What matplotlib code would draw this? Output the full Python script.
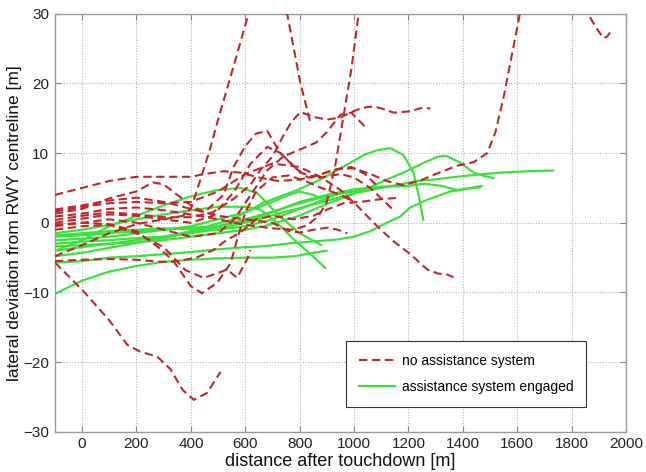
import matplotlib
matplotlib.use("Agg")
import matplotlib.pyplot as plt
from matplotlib.lines import Line2D

plt.rcParams['font.family'] = ['Liberation Sans', 'DejaVu Sans']

# ---------------- data ----------------
x_ticks = [0, 200, 400, 600, 800, 1000, 1200, 1400, 1600, 1800, 2000]
y_ticks = [-30, -20, -10, 0, 10, 20, 30]

# red dashed: no assistance system
red_top = [(-100, 4.0), (0, 5.0), (100, 6.0), (200, 6.6), (300, 6.6), (400, 6.6), (450, 7.0),
           (520, 7.4), (580, 7.2), (650, 6.5), (720, 6.0), (800, 6.2), (880, 7.0), (950, 7.8),
           (1000, 7.8), (1060, 7.0), (1120, 6.0), (1180, 5.4), (1240, 6.0), (1300, 7.0),
           (1380, 8.2), (1440, 8.7), (1490, 10.0), (1520, 13.0), (1550, 18.0), (1580, 24.0),
           (1610, 30.0), (1620, 33.0)]
red_spike1 = [(-100, -4.8), (0, -3.2), (100, -1.5), (200, -0.2), (300, 0.5), (370, 1.0), (400, 2.0),
              (435, 6.2), (470, 10.5), (500, 14.8), (564, 23.4), (612, 30.0), (650, 34.0),
              (700, 35.5), (740, 32.5), (754, 30.0), (803, 20.0), (840, 14.3)]
red_dip25 = [(-100, -5.7), (0, -9.6), (100, -14.0), (166, -17.5), (214, -18.5), (276, -19.2),
             (325, -21.0), (370, -24.0), (411, -25.4), (460, -24.4), (509, -21.4)]
red_flat = [(-100, -5.5), (0, -5.3), (100, -5.2), (200, -5.3), (289, -5.6), (336, -5.6), (420, -5.0),
            (483, -3.9), (530, -2.5), (582, -1.4), (640, 0.5), (700, 1.0), (777, 0.5), (850, 1.0),
            (901, 1.9), (960, 2.8), (1024, 3.0), (1100, 3.4), (1171, 3.6)]
red_end975 = [(-100, 1.9), (0, 2.5), (100, 3.2), (200, 3.6), (300, 3.0), (400, 2.0), (500, 1.0),
              (600, 0.5), (700, 0.0), (760, -1.2), (803, -1.4), (850, -1.0), (901, -0.7),
              (940, -1.0), (975, -1.5)]
red_end1366 = [(-100, 1.6), (0, 2.3), (100, 2.8), (200, 3.0), (300, 2.8), (400, 3.0), (500, 4.5),
               (600, 7.0), (700, 8.5), (800, 8.0), (880, 6.5), (950, 4.7), (1010, 2.5), (1072, 0.0),
               (1140, -2.5), (1207, -4.5), (1269, -6.7), (1310, -7.3), (1340, -7.4), (1366, -7.8)]
red_end1281 = [(-100, 0.4), (0, 1.0), (100, 1.5), (200, 1.2), (300, 0.8), (400, 0.8), (480, 1.5),
               (560, 3.5), (620, 5.5), (656, 7.6), (700, 9.5), (740, 12.5), (770, 14.5), (803, 15.9),
               (850, 15.2), (900, 14.8), (950, 15.1), (986, 15.8), (1030, 16.5), (1072, 16.7),
               (1110, 16.3), (1146, 15.8), (1207, 16.0), (1250, 16.5), (1281, 16.4)]
red_spike2 = [(-100, 0.9), (0, 1.3), (100, 2.0), (200, 2.2), (300, 1.8), (400, 1.2), (500, 0.5),
              (600, -0.3), (700, -0.8), (780, -1.0), (830, -0.3), (870, 1.0), (900, 3.0), (930, 8.0),
              (960, 15.0), (990, 22.0), (1017, 30.0), (1030, 33.0)]
red_dip8 = [(-100, -1.0), (0, -0.5), (100, -0.3), (200, -1.5), (300, -3.5), (380, -6.8), (447, -7.9),
            (500, -7.2), (533, -6.7), (570, -7.9), (606, -5.3), (619, -3.9)]
red_dip10 = [(-100, -0.3), (0, 0.0), (100, -0.2), (200, -1.2), (280, -3.5), (336, -5.5), (400, -9.1),
             (441, -10.1), (497, -8.6), (546, -5.8), (570, -2.4), (600, 1.5), (640, 4.5), (700, 6.5),
             (760, 6.8), (820, 6.0), (880, 5.0), (950, 4.0), (1000, 3.0)]
red_peak13 = [(-100, 1.3), (0, 2.0), (100, 3.5), (200, 4.5), (260, 5.8), (300, 5.5), (350, 4.0),
              (400, 2.5), (450, 1.5), (520, 4.0), (557, 8.0), (600, 11.0), (640, 12.8), (680, 13.2),
              (729, 10.0), (803, 7.2), (851, 6.6), (925, 7.6), (990, 8.0), (1040, 7.0), (1080, 5.5)]
red_peak11 = [(-100, 0.0), (0, 0.6), (100, 1.2), (200, 1.0), (300, 0.5), (400, 0.0), (480, 1.0),
              (560, 4.5), (620, 8.5), (681, 10.9), (730, 10.0), (780, 8.0), (830, 6.5), (880, 6.5),
              (950, 7.0), (1000, 6.5), (1060, 5.0), (1100, 3.5), (1140, 2.0)]
red_end1040 = [(-100, -0.5), (0, 0.0), (100, 0.5), (200, 0.0), (300, -1.0), (400, -2.0), (500, -1.5),
               (560, 0.5), (620, 4.0), (680, 7.5), (740, 9.5), (800, 10.5), (860, 11.5), (900, 13.0),
               (950, 15.5), (990, 15.8), (1040, 13.8)]
red_corner = [(1840, 31.0), (1860, 30.0), (1890, 28.0), (1917, 26.5), (1930, 26.7), (1942, 27.3)]

red_curves = [red_top, red_spike1, red_dip25, red_flat, red_end975, red_end1366, red_end1281,
              red_spike2, red_dip8, red_dip10, red_peak13, red_peak11, red_end1040, red_corner]

# green solid: assistance system engaged
green_long = [(-100, -3.0), (0, -2.7), (100, -2.5), (200, -2.2), (300, -2.0), (400, -1.5), (480, -1.0),
              (546, -0.5), (650, 0.5), (730, 1.4), (820, 2.3), (913, 3.3), (1000, 4.2), (1097, 5.0),
              (1170, 5.5), (1230, 6.0), (1293, 6.2), (1354, 6.5), (1450, 6.9), (1538, 7.2),
              (1640, 7.4), (1733, 7.5)]
green_peak1130 = [(-100, -4.0), (0, -3.5), (100, -3.0), (200, -2.5), (300, -2.0), (400, -1.2),
                  (480, -0.3), (546, 0.4), (668, 2.9), (791, 4.7), (876, 6.2), (913, 7.0), (986, 8.6),
                  (1040, 9.8), (1085, 10.4), (1134, 10.7), (1182, 9.7), (1219, 7.2), (1240, 3.5),
                  (1255, 0.4)]
green_peak1330 = [(-100, -3.4), (0, -3.2), (100, -3.0), (200, -2.8), (300, -2.5), (400, -2.0),
                  (500, -1.5), (600, -1.0), (668, -0.5), (791, 0.9), (913, 2.9), (1036, 4.7),
                  (1120, 6.2), (1182, 7.2), (1256, 8.6), (1310, 9.5), (1340, 9.6), (1391, 8.6),
                  (1440, 7.2), (1480, 6.7), (1514, 6.4)]
green_end1465 = [(-100, -5.7), (0, -5.5), (100, -5.0), (200, -4.8), (300, -4.5), (400, -4.2),
                 (500, -3.8), (600, -3.5), (656, -3.4), (778, -2.9), (938, -2.4), (1000, -2.0),
                 (1060, -1.2), (1120, 0.0), (1170, 0.9), (1207, 2.2), (1269, 3.3), (1354, 4.5),
                 (1420, 4.9), (1465, 5.1)]
green_end1470 = [(-100, -2.0), (0, -1.8), (100, -1.5), (200, -1.2), (300, -1.0), (400, -0.7),
                 (500, -0.5), (600, 0.2), (700, 1.5), (800, 3.0), (900, 4.0), (1000, 4.8), (1100, 5.2),
                 (1200, 5.3), (1260, 5.6), (1320, 5.3), (1380, 4.7), (1430, 5.0), (1470, 5.3)]
green_end895 = [(-100, -1.5), (0, -1.0), (100, -0.3), (200, 0.5), (300, 1.2), (400, 1.8), (500, 2.3),
                (600, 2.3), (656, 1.9), (717, 0.0), (778, -2.4), (840, -4.5), (895, -6.5)]
green_hump = [(-100, -4.0), (0, -2.5), (100, -0.5), (200, 1.0), (300, 2.5), (400, 3.8), (497, 4.7),
              (582, 5.0), (643, 4.3), (692, 2.3), (740, 0.5), (800, -1.5), (880, -3.2)]
green_low = [(-100, -10.2), (0, -8.3), (100, -7.0), (200, -6.2), (300, -5.6), (400, -5.3), (500, -5.1),
             (600, -5.0), (700, -5.0), (780, -4.8), (850, -4.3), (900, -4.0)]
green_mid1 = [(-100, -2.5), (0, -2.3), (100, -2.0), (200, -1.5), (300, -1.0), (400, -0.5), (500, 0.5),
              (600, 1.5), (700, 3.0), (760, 4.0), (800, 4.5), (850, 4.0), (880, 3.5)]
green_mid2 = [(-100, -4.8), (0, -4.3), (100, -3.6), (200, -2.9), (300, -2.2), (400, -1.4), (500, -0.5),
              (600, 0.5), (700, 1.6), (800, 2.8), (900, 3.8), (1000, 4.5), (1050, 4.8)]
green_mid3 = [(-100, -1.8), (0, -1.5), (100, -1.2), (200, -1.0), (300, -0.8), (400, -0.9), (500, -1.0),
              (600, -0.5), (700, 0.5), (800, 2.0), (900, 3.5), (960, 4.5)]

green_curves = [green_long, green_peak1130, green_peak1330, green_end1465, green_end1470,
                green_end895, green_hump, green_low, green_mid1, green_mid2, green_mid3]

legend_labels = ["no assistance system", "assistance system engaged"]
x_label = "distance after touchdown [m]"
y_label = "lateral deviation from RWY centreline [m]"

# ---------------- styling ----------------
RED = '#c0272d'
GREEN = '#3ee03e'

fig = plt.figure(figsize=(6.46, 4.72), dpi=100)
ax = fig.add_axes([0.085, 0.085, 0.884, 0.886])

for c in green_curves:
    xs = [p[0] for p in c]
    ys = [p[1] for p in c]
    ax.plot(xs, ys, color=GREEN, lw=1.6, solid_capstyle='round', zorder=2)

for c in red_curves:
    xs = [p[0] for p in c]
    ys = [p[1] for p in c]
    ax.plot(xs, ys, color=RED, lw=1.5, dashes=(4, 2.2), zorder=3)

ax.set_xlim(-100, 2000)
ax.set_ylim(-30, 30)
ax.set_xticks(x_ticks)
ax.set_yticks(y_ticks)
ax.grid(True, color='#b0b0b0', linestyle=(0, (1, 1.5)), linewidth=0.8)
ax.set_axisbelow(True)
ax.tick_params(direction='in', top=True, right=True, length=4, colors='#888888',
               labelcolor='#222222', labelsize=11, pad=4)
for s in ax.spines.values():
    s.set_color('#999999')
    s.set_linewidth(1.0)

ax.set_xlabel(x_label, fontsize=13, color='#111111', labelpad=1)
ax.set_ylabel(y_label, fontsize=12.5, color='#111111', labelpad=1)

handles = [Line2D([], [], color=RED, lw=1.5, dashes=(4, 2.2)),
           Line2D([], [], color=GREEN, lw=1.6)]
leg = ax.legend(handles, legend_labels, loc='lower left', bbox_to_anchor=(0.51, 0.06),
                borderaxespad=0, fancybox=False, framealpha=1, edgecolor='#333333', fontsize=10,
                handlelength=2.6, borderpad=0.9, labelspacing=0.9, handletextpad=0.5)
leg.get_frame().set_linewidth(0.8)

fig.savefig('out.png', dpi=100)
